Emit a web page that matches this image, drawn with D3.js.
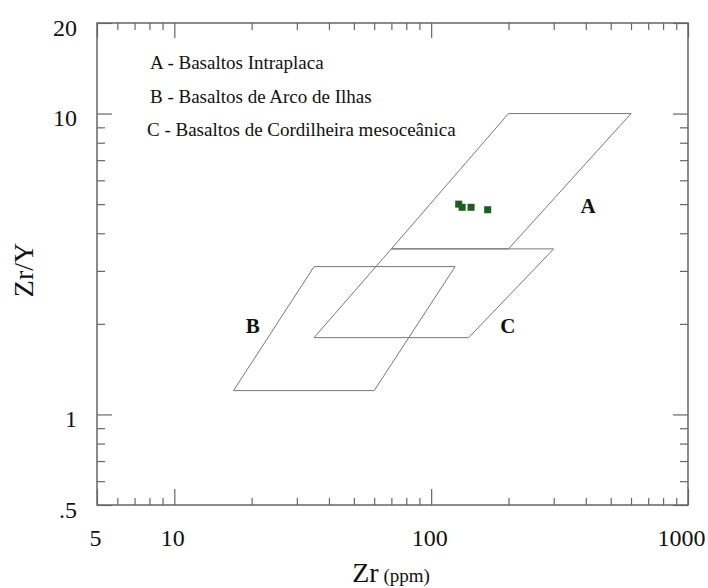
<!DOCTYPE html>
<html>
<head>
<meta charset="utf-8">
<script src="https://cdn.jsdelivr.net/npm/d3@7/dist/d3.min.js"></script>
<style>
    body { margin: 0; background: #fff; }
    text { font-family: "Liberation Serif", "Times New Roman", serif; fill: #111; }
</style>
</head>
<body>
<div id="chart"></div>
<script>
// tick values
var xMajor = [5, 10, 100, 1000];
var xMinor = [6, 7, 8, 9, 20, 30, 40, 50, 60, 70, 80, 90, 200, 300, 400, 500, 600, 700, 800, 900];
var yMajor = [0.5, 1, 10, 20];
var yMinor = [0.6, 0.7, 0.8, 0.9, 2, 3, 4, 5, 6, 7, 8, 9];
var yLabels = { 0.5: ".5", 1: "1", 10: "10", 20: "20" };

// discrimination fields (Zr ppm, Zr/Y)
var fieldA = [[70, 3.55], [200, 10], [600, 10], [200, 3.55]];
var fieldB = [[17, 1.2], [35, 3.1], [124, 3.1], [60, 1.2]];
var fieldC = [[35, 1.8], [70, 3.55], [300, 3.55], [140, 1.8]];
var fieldNames = ["A", "B", "C"];
var fieldLabelZr = [408, 20.2, 199];
var fieldLabelZrY = [4.67, 1.865, 1.865];

// samples
var sampleZr = [128, 132, 143, 166];
var sampleZrY = [5.0, 4.88, 4.88, 4.79];

var legendLines = [
    "A - Basaltos Intraplaca",
    "B - Basaltos de Arco de Ilhas",
    "C - Basaltos de Cordilheira mesoceânica"
];

var width = 708, height = 588;
var margin = { top: 23, right: 20, bottom: 83, left: 97 };

var svg = d3.select("#chart").append("svg")
    .attr("width", width)
    .attr("height", height);

var x = d3.scaleLog()
    .domain([5, 1000])
    .range([margin.left, 688]);
var y = d3.scaleLog()
    .domain([0.5, 20])
    .range([505, margin.top]);

var frameColor = "#666";

// axes - major ticks with labels, minor ticks without
function drawAxis(axisFn, scale, values, size, transform, labels) {
    var ax = axisFn(scale)
        .tickValues(values)
        .tickSizeInner(-size)
        .tickSizeOuter(0)
        .tickFormat(labels || "");
    var g = svg.append("g")
        .attr("transform", transform)
        .call(ax);
    g.select(".domain").remove();
    g.selectAll(".tick line")
        .attr("stroke", frameColor)
        .attr("stroke-width", 1.2);
    return g;
}

var xb = drawAxis(d3.axisBottom, x, xMajor, 16, "translate(0,505)", function (d) { return d; });
drawAxis(d3.axisBottom, x, xMinor, 7, "translate(0,505)");
drawAxis(d3.axisTop, x, xMajor, 15, "translate(0,23)");
drawAxis(d3.axisTop, x, xMinor, 7, "translate(0,23)");

var yl = drawAxis(d3.axisLeft, y, yMajor, 15, "translate(97,0)", function (d) { return yLabels[d]; });
drawAxis(d3.axisLeft, y, yMinor, 8, "translate(97,0)");
drawAxis(d3.axisRight, y, yMajor, 15, "translate(688,0)");
drawAxis(d3.axisRight, y, yMinor, 8, "translate(688,0)");

xb.selectAll(".tick text")
    .attr("y", 41)
    .attr("dy", 0)
    .attr("x", function (d) { return d == 1000 ? -7 : -2; })
    .style("font-size", "24px")
    .style("font-family", "'Liberation Serif', serif")
    .attr("fill", "#111");

yl.selectAll(".tick text")
    .attr("x", -20)
    .attr("dy", 12)
    .style("font-size", "24px")
    .style("font-family", "'Liberation Serif', serif")
    .attr("fill", "#111");

// frame
svg.append("rect")
    .attr("x", x(5))
    .attr("y", y(20))
    .attr("width", x(1000) - x(5))
    .attr("height", y(0.5) - y(20))
    .attr("fill", "none")
    .attr("stroke", frameColor)
    .attr("stroke-width", 1.5);

// fields
var line = d3.line()
    .x(function (d) { return x(d[0]); })
    .y(function (d) { return y(d[1]); })
    .curve(d3.curveLinearClosed);

svg.selectAll(".field")
    .data([fieldA, fieldB, fieldC])
    .enter()
    .append("path")
    .attr("class", "field")
    .attr("d", line)
    .attr("fill", "none")
    .attr("stroke", "#777")
    .attr("stroke-width", 1);

svg.selectAll(".field-label")
    .data(fieldNames)
    .enter()
    .append("text")
    .attr("class", "field-label")
    .attr("x", function (d, i) { return x(fieldLabelZr[i]); })
    .attr("y", function (d, i) { return y(fieldLabelZrY[i]); })
    .attr("text-anchor", "middle")
    .style("font-size", "21px")
    .style("font-weight", "bold")
    .text(function (d) { return d; });

// samples
svg.selectAll(".sample")
    .data(sampleZr)
    .enter()
    .append("rect")
    .attr("class", "sample")
    .attr("x", function (d) { return x(d) - 3.5; })
    .attr("y", function (d, i) { return y(sampleZrY[i]) - 3.5; })
    .attr("width", 7)
    .attr("height", 7)
    .attr("fill", "#1d5e22");

// legend
svg.selectAll(".legend")
    .data(legendLines)
    .enter()
    .append("text")
    .attr("class", "legend")
    .attr("x", function (d, i) { return i == 2 ? 147 : 150; })
    .attr("y", function (d, i) { return 69 + i * 33.5; })
    .style("font-size", "19px")
    .text(function (d) { return d; });

// axis titles
svg.append("text")
    .attr("transform", "translate(33,270) rotate(-90)")
    .attr("text-anchor", "middle")
    .style("font-size", "28px")
    .text("Zr/Y");

var xt = svg.append("text")
    .attr("x", 391)
    .attr("y", 582)
    .attr("text-anchor", "middle");
xt.append("tspan").style("font-size", "28px").text("Zr");
xt.append("tspan").style("font-size", "19px").text(" (ppm)");
</script>
</body>
</html>
